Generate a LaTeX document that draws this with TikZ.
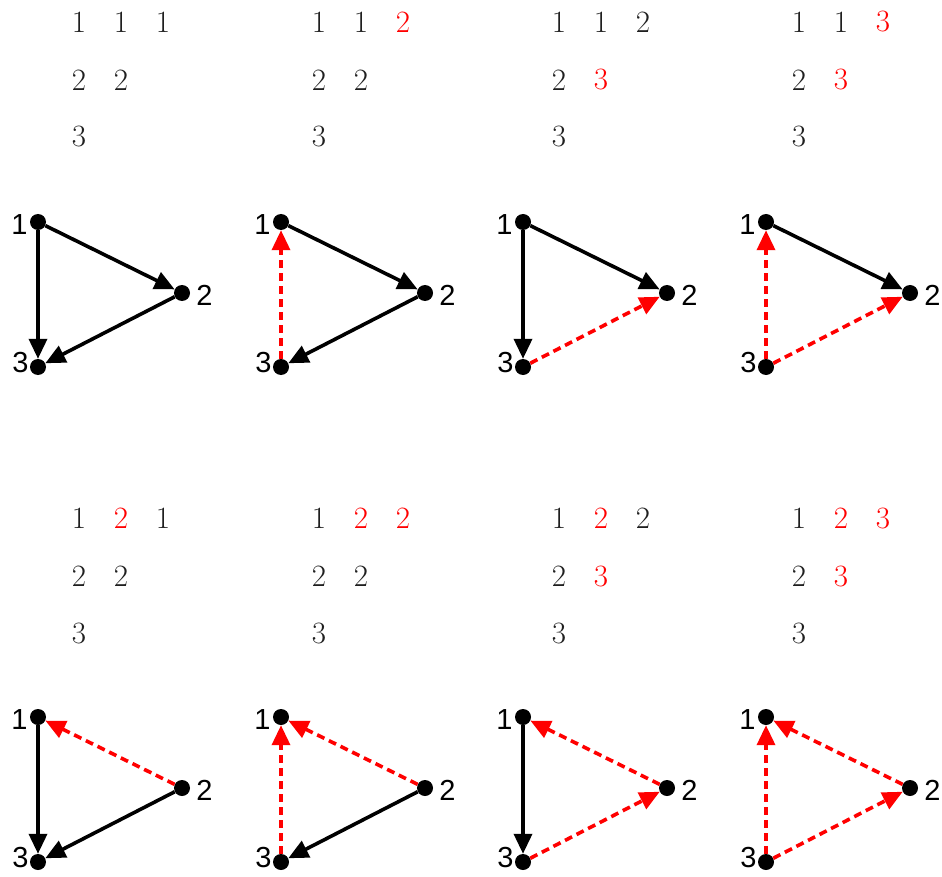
\documentclass[tikz,border=0pt]{standalone}
\usepackage{fontspec}
\newfontfamily\labfont{Liberation Sans}
\usetikzlibrary{arrows.meta}
\definecolor{numgray}{HTML}{1F1F1F}
\definecolor{myred}{HTML}{FF0000}
\tikzset{
 dot/.style={circle,fill=black,inner sep=0pt,minimum size=16pt},
 lab/.style={font=\labfont\fontsize{29}{29}\selectfont, label distance=1pt, inner sep=1pt},
 num/.style={font=\fontsize{31}{31}\selectfont, text=numgray, inner sep=0pt},
 blk/.style={line width=3.6pt,-{Triangle[length=20pt,width=18pt]}},
 rdd/.style={line width=3.6pt,draw=myred,dash pattern=on 8pt off 5pt,-{Triangle[length=20pt,width=18pt,fill=myred]}},
}
\newcommand\R[1]{\textcolor{myred}{#1}}
\newcommand\numgrid[8]{%
 \node[num] (#1n11) at (#2,#3) {#4};
 \node[num] (#1n12) at (#2+42,#3) {#5};
 \node[num] (#1n13) at (#2+84,#3) {#6};
 \node[num] (#1n21) at (#2,#3+58) {#7};
 \node[num] (#1n22) at (#2+42,#3+58) {#8};
 \node[num] (#1n31) at (#2,#3+115) {3};
}
\newcommand\tri[3]{%
 \node[dot,label={[lab,yshift=-3pt]left:1}] (#1a) at (#2,#3) {};
 \node[dot,label={[lab,yshift=-2pt,label distance=5pt]right:2}] (#1b) at (#2+144,#3+71) {};
 \node[dot,label={[lab,yshift=4pt,label distance=0pt]left:3}] (#1c) at (#2,#3+145) {};
}
\begin{document}
\begin{tikzpicture}[x=1pt,y=-1pt]
\useasboundingbox (0,0) rectangle (942,877);
% top row
\numgrid{t1}{79}{22}{1}{1}{1}{2}{2}
\numgrid{t2}{319}{22}{1}{1}{\R{2}}{2}{2}
\numgrid{t3}{559}{22}{1}{1}{2}{2}{\R{3}}
\numgrid{t4}{799}{22}{1}{1}{\R{3}}{2}{\R{3}}
\tri{t1}{38}{222}
\tri{t2}{281}{222}
\tri{t3}{523}{222}
\tri{t4}{766}{222}
\draw[blk] (t1a) -- (t1c);
\draw[blk] (t1a) -- (t1b);
\draw[blk] (t1b) -- (t1c);
\draw[rdd] (t2c) -- (t2a);
\draw[blk] (t2a) -- (t2b);
\draw[blk] (t2b) -- (t2c);
\draw[blk] (t3a) -- (t3c);
\draw[blk] (t3a) -- (t3b);
\draw[rdd] (t3c) -- (t3b);
\draw[rdd] (t4c) -- (t4a);
\draw[blk] (t4a) -- (t4b);
\draw[rdd] (t4c) -- (t4b);
% bottom row
\numgrid{b1}{79}{518}{1}{\R{2}}{1}{2}{2}
\numgrid{b2}{319}{518}{1}{\R{2}}{\R{2}}{2}{2}
\numgrid{b3}{559}{518}{1}{\R{2}}{2}{2}{\R{3}}
\numgrid{b4}{799}{518}{1}{\R{2}}{\R{3}}{2}{\R{3}}
\tri{b1}{38}{717}
\tri{b2}{281}{717}
\tri{b3}{523}{717}
\tri{b4}{766}{717}
\draw[blk] (b1a) -- (b1c);
\draw[rdd] (b1b) -- (b1a);
\draw[blk] (b1b) -- (b1c);
\draw[rdd] (b2c) -- (b2a);
\draw[rdd] (b2b) -- (b2a);
\draw[blk] (b2b) -- (b2c);
\draw[blk] (b3a) -- (b3c);
\draw[rdd] (b3b) -- (b3a);
\draw[rdd] (b3c) -- (b3b);
\draw[rdd] (b4c) -- (b4a);
\draw[rdd] (b4b) -- (b4a);
\draw[rdd] (b4c) -- (b4b);
\end{tikzpicture}
\end{document}
